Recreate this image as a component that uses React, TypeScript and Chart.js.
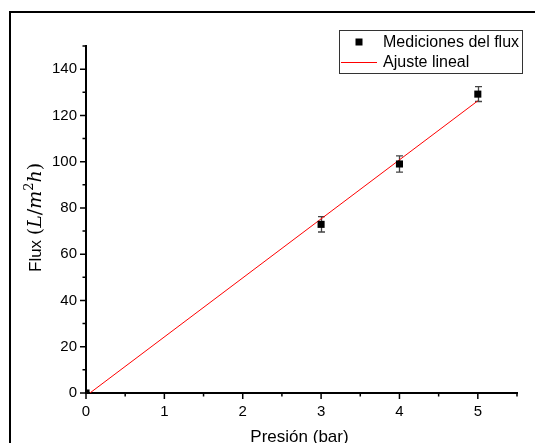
import React, { useEffect, useRef } from 'react';
import { Chart, registerables } from 'chart.js';

Chart.register(...registerables);

const pressureBar = [0, 3, 4, 5];
const fluxValues = [0, 72.9, 99.0, 129.2];
const fluxErrors = [0, 3.3, 3.5, 3.2];
const fitPressure = [0.05, 5];
const fitFlux = [0, 126.3];
const xMajorTicks = [0, 1, 2, 3, 4, 5];
const xMinorTicks = [0.5, 1.5, 2.5, 3.5, 4.5, 5.5];
const yMajorTicks = [0, 20, 40, 60, 80, 100, 120, 140];
const yMinorTicks = [10, 30, 50, 70, 90, 110, 130, 150];
const seriesLabels = ['Mediciones del flux', 'Ajuste lineal'];
const xTitle = 'Presión (bar)';

const SANS = '"Liberation Sans", Arial, sans-serif';
const SERIF = '"DejaVu Serif", serif';

const decorPlugin = {
  id: 'decor',
  beforeDraw(chart: any) {
    const { ctx } = chart;
    ctx.save();
    ctx.fillStyle = '#fff';
    ctx.fillRect(0, 0, chart.width, chart.height);
    ctx.strokeStyle = '#000';
    ctx.lineWidth = 2;
    ctx.strokeRect(10, 12, chart.width + 40, chart.height + 40);
    ctx.restore();
  },
  beforeDatasetsDraw(chart: any) {
    const { ctx } = chart;
    const xs = chart.scales.x;
    const ys = chart.scales.y;
    ctx.save();
    ctx.strokeStyle = '#444';
    ctx.lineWidth = 1.3;
    pressureBar.forEach((p, i) => {
      const e = fluxErrors[i];
      if (!e) return;
      const px = Math.round(xs.getPixelForValue(p)) + 0.5;
      const top = ys.getPixelForValue(fluxValues[i] + e);
      const bot = ys.getPixelForValue(fluxValues[i] - e);
      ctx.beginPath();
      ctx.moveTo(px, top);
      ctx.lineTo(px, bot);
      ctx.moveTo(px - 3.5, top);
      ctx.lineTo(px + 3.5, top);
      ctx.moveTo(px - 3.5, bot);
      ctx.lineTo(px + 3.5, bot);
      ctx.stroke();
    });
    ctx.restore();
  },
  afterDraw(chart: any) {
    const { ctx, chartArea } = chart;
    const xs = chart.scales.x;
    const ys = chart.scales.y;
    ctx.save();
    // tick marks
    ctx.strokeStyle = '#000';
    ctx.lineWidth = 1.5;
    ctx.beginPath();
    const left = chartArea.left;
    const bottom = chartArea.bottom;
    yMajorTicks.forEach((v) => {
      const py = ys.getPixelForValue(v);
      ctx.moveTo(left - 6, py);
      ctx.lineTo(left, py);
    });
    yMinorTicks.forEach((v) => {
      const py = ys.getPixelForValue(v);
      ctx.moveTo(left - 3.5, py);
      ctx.lineTo(left, py);
    });
    xMajorTicks.forEach((v) => {
      const px = xs.getPixelForValue(v);
      ctx.moveTo(px, bottom);
      ctx.lineTo(px, bottom + 6);
    });
    xMinorTicks.forEach((v) => {
      const px = xs.getPixelForValue(v);
      ctx.moveTo(px, bottom);
      ctx.lineTo(px, bottom + 3.5);
    });
    ctx.stroke();

    // x title
    ctx.fillStyle = '#000';
    ctx.font = `17px ${SANS}`;
    ctx.textAlign = 'center';
    ctx.textBaseline = 'alphabetic';
    ctx.fillText(xTitle, (chartArea.left + chartArea.right) / 2 - 2, 442);

    // y title (rotated, mixed fonts)
    const segs = [
      { t: 'Flux ', f: `17px ${SANS}`, dy: 0 },
      { t: '(', f: `19px ${SERIF}`, dy: 0 },
      { t: 'L', f: `italic 19px ${SERIF}`, dy: 0 },
      { t: '/', f: `19px ${SERIF}`, dy: 0 },
      { t: 'm', f: `italic 19px ${SERIF}`, dy: 0 },
      { t: '2', f: `13px ${SERIF}`, dy: -8 },
      { t: 'h', f: `italic 19px ${SERIF}`, dy: 0 },
      { t: ')', f: `19px ${SERIF}`, dy: 0 },
    ];
    ctx.translate(41, 272);
    ctx.rotate(-Math.PI / 2);
    ctx.textAlign = 'left';
    let cx = 0;
    segs.forEach((s) => {
      ctx.font = s.f;
      ctx.fillText(s.t, cx, s.dy);
      cx += ctx.measureText(s.t).width;
    });
    ctx.setTransform(1, 0, 0, 1, 0, 0);

    // legend
    ctx.strokeStyle = '#333';
    ctx.lineWidth = 1;
    ctx.strokeRect(339.5, 30.5, 183, 43);
    ctx.fillStyle = '#000';
    ctx.fillRect(355.5, 38.5, 7, 7);
    ctx.strokeStyle = '#ff0000';
    ctx.beginPath();
    ctx.moveTo(341, 62.5);
    ctx.lineTo(377, 62.5);
    ctx.stroke();
    ctx.fillStyle = '#000';
    ctx.font = `16px ${SANS}`;
    ctx.textAlign = 'left';
    ctx.textBaseline = 'middle';
    ctx.fillText(seriesLabels[0], 383, 42.5);
    ctx.fillText(seriesLabels[1], 383, 62.5);
    ctx.restore();
  },
};

export default function App() {
  const ref = useRef<HTMLCanvasElement | null>(null);
  useEffect(() => {
    if (!ref.current) return;
    const chart = new Chart(ref.current, {
      type: 'scatter',
      data: {
        datasets: [
          {
            label: seriesLabels[0],
            data: pressureBar.map((p, i) => ({ x: p, y: fluxValues[i] })),
            pointStyle: 'rect',
            pointRadius: 5,
            pointBackgroundColor: '#000',
            pointBorderWidth: 0,
            borderWidth: 0,
            backgroundColor: '#000',
          },
          {
            label: seriesLabels[1],
            data: fitPressure.map((p, i) => ({ x: p, y: fitFlux[i] })),
            showLine: true,
            pointRadius: 0,
            borderColor: '#ff0000',
            borderWidth: 1,
          },
        ],
      },
      options: {
        animation: false,
        responsive: false,
        devicePixelRatio: 1,
        layout: { padding: { left: 0, right: 18, top: 46, bottom: 0 } },
        plugins: { legend: { display: false }, tooltip: { enabled: false } },
        scales: {
          x: {
            type: 'linear',
            min: 0,
            max: 5.5,
            afterBuildTicks: (s: any) => {
              s.ticks = xMajorTicks.map((v) => ({ value: v }));
            },
            afterFit: (s: any) => {
              s.height = 50;
            },
            grid: { display: false, drawTicks: false },
            border: { display: true, color: '#000', width: 2 },
            ticks: { color: '#000', font: { family: SANS, size: 15 }, padding: 10, maxRotation: 0 },
          },
          y: {
            type: 'linear',
            min: 0,
            max: 150,
            afterBuildTicks: (s: any) => {
              s.ticks = yMajorTicks.map((v) => ({ value: v }));
            },
            afterFit: (s: any) => {
              s.width = 86;
            },
            grid: { display: false, drawTicks: false },
            border: { display: true, color: '#000', width: 2 },
            ticks: { color: '#000', font: { family: SANS, size: 15 }, padding: 9 },
          },
        },
      },
      plugins: [decorPlugin],
    } as any);
    return () => chart.destroy();
  }, []);
  return (
    <div style={{ position: 'fixed', left: 0, top: 0, width: 535, height: 443, overflow: 'hidden', background: '#fff' }}>
      <canvas ref={ref} width={535} height={443} style={{ display: 'block' }} />
    </div>
  );
}
